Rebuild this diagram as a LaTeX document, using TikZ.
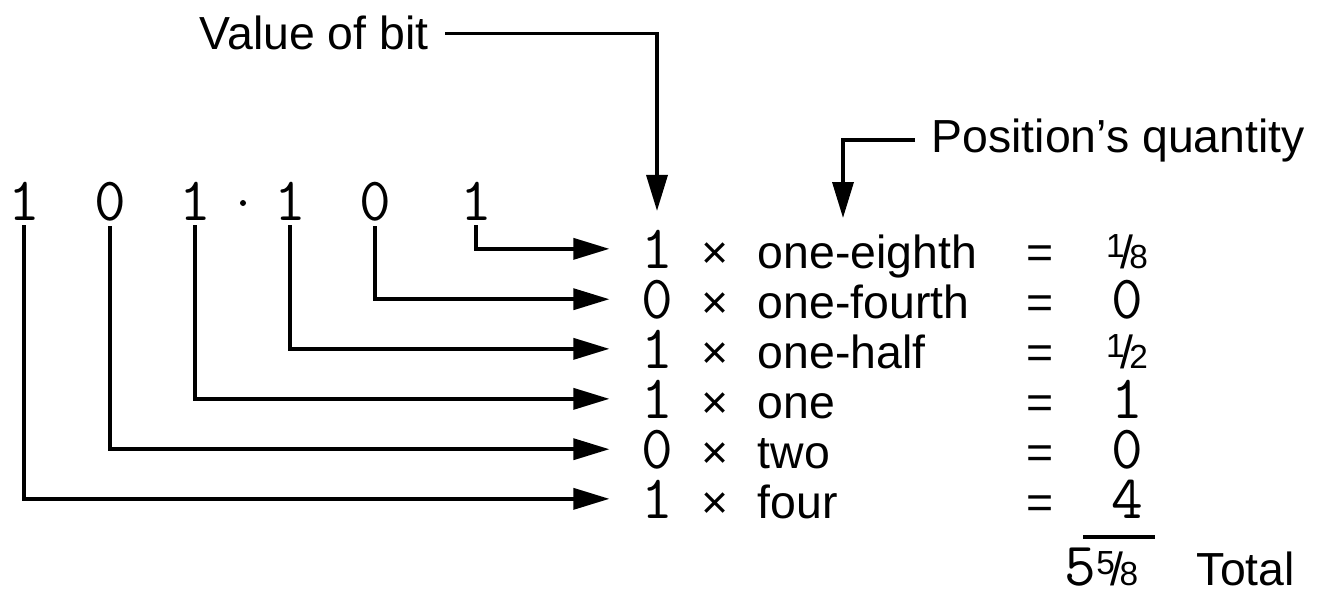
\documentclass[tikz,border=0pt]{standalone}
\usepackage{fontspec}
\setmainfont{Liberation Sans}
\usetikzlibrary{arrows.meta}

\newcommand{\bitfont}{\fontsize{35}{38}\selectfont\ttfamily}
\newcommand{\labfont}{\fontsize{26.4}{30}\selectfont}
% built-up fraction, numerator raised over a full-size slash
\newcommand{\frc}[2]{\raisebox{6pt}{\fontsize{19}{19}\selectfont #1}\kern-0.09em/\kern-0.09em{\fontsize{19}{19}\selectfont #2}}

\begin{document}
\begin{tikzpicture}[x=0.02cm,y=-0.02cm,line width=2pt,
    >={Triangle[length=0.72cm,width=0.42cm]},
    bit/.style={font=\bitfont,inner sep=0pt,anchor=base},
    rowbit/.style={bit,inner xsep=0.6cm,inner ysep=0.34cm},
    word/.style={font=\labfont,inner sep=0pt,anchor=base west},
    note/.style={font=\labfont,inner xsep=0.3cm,inner ysep=0pt,anchor=base west}]
  \useasboundingbox (0,0) rectangle (1318,595);

  % the binary number, bit 6 is the leftmost
  \foreach \n/\x/\d in {6/24/1,5/110/0,4/195/1,3/290/1,2/375/0,1/476/1}
    \node[bit] (b\n) at (\x,220) {\d};
  \fill (243,203) circle (3);

  % one line of the sum for each bit
  \foreach \n/\d/\w/\r in {1/1/one-eighth/{\frc18},
                           2/0/one-fourth/{\bitfont 0},
                           3/1/one-half/{\frc12},
                           4/1/one/{\bitfont 1},
                           5/0/two/{\bitfont 0},
                           6/1/four/{\bitfont 4}}
  {
    \pgfmathsetmacro\yb{268+50*(\n-1)}
    \node[rowbit] (v\n) at (657,\yb) {\d};
    \node[word,anchor=base] (t\n) at (715,\yb) {×};
    \node[word] (w\n) at (756,\yb) {\w};
    \node[word,anchor=base] (e\n) at (1040,\yb) {=};
    \node[word,anchor=base] (r\n) at (1127,\yb) {\r};
    \draw[->,shorten <=2pt] (b\n.south) |- (v\n.west);
  }

  % callouts
  \node[note] (vb) at (183,50) {Value of bit};
  \draw[->] (vb.east) -| (v1.north);

  \node[note] (pq) at (915,152) {Position’s quantity};
  \coordinate (pqtip) at (843,218);
  \draw[->] (pq.west) -| (pqtip);

  % total
  \draw (1083,537) -- (1155,537);
  \node[word,text depth=0pt] (sum) at (1063,585) {{\bitfont 5}\frc58};
  \node[word,text depth=0pt] (tot) at (1195,585) {Total};
\end{tikzpicture}
\end{document}
